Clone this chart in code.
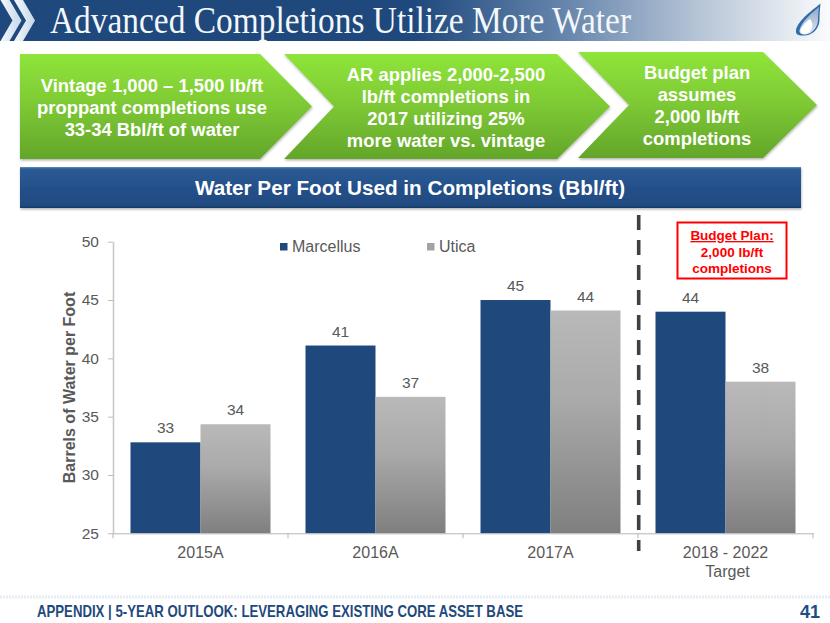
<!DOCTYPE html>
<html>
<head>
<meta charset="utf-8">
<script src="https://cdn.jsdelivr.net/npm/d3@7"></script>
<style>
  html, body { margin: 0; padding: 0; background: #fff; }
  svg { display: block; font-family: 'Liberation Sans', Arial, sans-serif; }
</style>
</head>
<body>
<div id="slide"></div>
<script>
// chart values
const categories = ['2015A', '2016A', '2017A', '2018 - 2022\nTarget']
const seriesNames = ['Marcellus', 'Utica']
const marcellus = [32.8, 41.1, 45, 44]
const utica = [34.35, 36.7, 44.1, 38]
const yTicks = [25, 30, 35, 40, 45, 50]

const titleText = 'Advanced Completions Utilize More Water'
const arrowOne = ['Vintage 1,000 – 1,500 lb/ft', 'proppant completions use', '33-34 Bbl/ft of water']
const arrowTwo = ['AR applies 2,000-2,500', 'lb/ft completions in', '2017 utilizing 25%', 'more water vs. vintage']
const arrowThree = ['Budget plan', 'assumes', '2,000 lb/ft', 'completions']
const chartHeading = 'Water Per Foot Used in Completions (Bbl/ft)'
const yTitle = 'Barrels of Water per Foot'
const budgetNote = ['Budget Plan:', '2,000 lb/ft', 'completions']
const footerText = 'APPENDIX | 5-YEAR OUTLOOK: LEVERAGING EXISTING CORE ASSET BASE'
const pageNumber = '41'

const width = 830
const height = 623
const navy = '#1f497d'
const labelGrey = '#595959'

const svg = d3
  .select('#slide')
  .append('svg')
  .attr('width', width)
  .attr('height', height)

const defs = svg.append('defs')

function linearGradient(id, stops, horizontal) {
  const g = defs
    .append('linearGradient')
    .attr('id', id)
    .attr('x1', 0)
    .attr('y1', 0)
    .attr('x2', horizontal ? 1 : 0)
    .attr('y2', horizontal ? 0 : 1)
  stops.forEach(s => {
    g.append('stop').attr('offset', s[0]).attr('stop-color', s[1])
  })
}

linearGradient('bannerFill', [[0, navy], [0.5, navy], [0.68, '#6685ab'], [0.84, '#b5c4d6'], [1, '#fafbfc']], true)
linearGradient('arrowFill', [[0, '#8fe53a'], [0.45, '#7fcb35'], [1, '#63a62a']])
linearGradient('headingFill', [[0, '#5f8fc4'], [0.05, '#2c5b95'], [0.5, '#24508a'], [0.95, '#1f4a80'], [1, '#16355c']])
linearGradient('uticaFill', [[0, '#b9b9b9'], [0.4, '#aaaaaa'], [1, '#7f7f7f']])
linearGradient('chevronFill', [[0, '#f4f8fc'], [1, '#c5d8ea']], true)
linearGradient('flameShade', [[0, '#8fa9c6'], [1, '#dfe6ee']])

const shadow = defs
  .append('filter')
  .attr('id', 'softShadow')
  .attr('x', '-5%')
  .attr('y', '-10%')
  .attr('width', '110%')
  .attr('height', '125%')
shadow
  .append('feDropShadow')
  .attr('dx', 0.5)
  .attr('dy', 1.5)
  .attr('stdDeviation', 1)
  .attr('flood-color', '#000')
  .attr('flood-opacity', 0.3)

// top banner
svg
  .append('rect')
  .attr('width', width)
  .attr('height', 41)
  .attr('fill', 'url(#bannerFill)')

// the two pale chevrons at the left of the banner
function bannerChevron(x) {
  return `M${x},0 L${x + 9},0 L${x + 21},20.5 L${x + 9},41 L${x},41 L${x + 12},20.5 Z`
}
svg
  .selectAll('path.bannerChevron')
  .data([0.5, 14])
  .enter()
  .append('path')
  .attr('class', 'bannerChevron')
  .attr('d', d => bannerChevron(d))
  .attr('fill', 'url(#chevronFill)')

svg
  .append('text')
  .attr('x', 50)
  .attr('y', 33)
  .attr('textLength', 581)
  .attr('lengthAdjust', 'spacingAndGlyphs')
  .style('font-family', "'Liberation Serif', serif")
  .style('font-size', '37px')
  .attr('fill', '#f4f7fa')
  .text(titleText)

// flame logo
const flame = svg.append('g')
flame
  .append('path')
  .attr('d', 'M820.5,3.5 C814,9 798,20 796,30 C795,35 800,36 805,35.5 C814,35 819.5,27 819.5,20 C819.5,14 820,8 820.5,3.5 Z')
  .attr('fill', '#2f6cab')
flame
  .append('path')
  .attr('d', 'M819,7 C813,12 802,21 799.5,30 C799,34 803,35 806,34.5 C813,33.5 818,26 818,20 C818,15 818.5,11 819,7 Z')
  .attr('fill', 'url(#flameShade)')
flame
  .append('path')
  .attr('d', 'M810,19 C806,22 801,27 800.5,31 C800.5,34 804,34.5 807,33.5 C811,32 813,27 812,23 C811.5,21 811,20 810,19 Z')
  .attr('fill', '#fff')

// green process arrows
function arrowPath(a) {
  const mid = (a.top + a.bottom) / 2
  return `M${a.left},${a.top} L${a.shoulder},${a.top} L${a.tip},${mid} L${a.shoulder},${a.bottom} L${a.left},${a.bottom}` +
    (a.notch ? ` L${a.notch},${mid} Z` : ' Z')
}

const arrows = [
  { lines: arrowOne, left: 20, notch: 0, shoulder: 260, tip: 312, top: 54, bottom: 159, cx: 152, first: 92 },
  { lines: arrowTwo, left: 284, notch: 334, shoulder: 557, tip: 610, top: 54, bottom: 159, cx: 446, first: 80.5 },
  { lines: arrowThree, left: 578, notch: 629, shoulder: 763, tip: 817, top: 52, bottom: 158, cx: 697, first: 78.5 }
]

const arrow = svg
  .selectAll('g.arrow')
  .data(arrows)
  .enter()
  .append('g')
  .attr('class', 'arrow')

arrow
  .append('path')
  .attr('d', d => arrowPath(d))
  .attr('fill', 'url(#arrowFill)')
  .attr('filter', 'url(#softShadow)')

arrow
  .selectAll('text')
  .data(d => d.lines.map((line, i) => ({ line, x: d.cx, y: d.first + i * 22 })))
  .enter()
  .append('text')
  .attr('x', d => d.x)
  .attr('y', d => d.y)
  .attr('text-anchor', 'middle')
  .attr('fill', '#fff')
  .style('font-size', '18.4px')
  .style('font-weight', 'bold')
  .text(d => d.line)

// chart heading bar
svg
  .append('rect')
  .attr('x', 20)
  .attr('y', 167)
  .attr('width', 781)
  .attr('height', 41)
  .attr('fill', 'url(#headingFill)')
  .attr('filter', 'url(#softShadow)')

svg
  .append('text')
  .attr('x', 410)
  .attr('y', 195)
  .attr('text-anchor', 'middle')
  .attr('fill', '#fff')
  .style('font-size', '20.7px')
  .style('font-weight', 'bold')
  .text(chartHeading)

// bar chart
const plot = { left: 113, right: 813, top: 241.7, bottom: 533.3 }

const x = d3
  .scaleBand()
  .domain(categories)
  .range([plot.left, plot.right])
  .paddingInner(0.2)
  .paddingOuter(0.1)

const xGroup = d3
  .scaleBand()
  .domain(seriesNames)
  .range([0, x.bandwidth()])

const y = d3
  .scaleLinear()
  .domain([25, 50])
  .range([plot.bottom, plot.top])

const yAxis = svg
  .append('g')
  .attr('transform', `translate(${plot.left},0)`)
  .call(
    d3
      .axisLeft(y)
      .tickValues(yTicks)
      .tickSizeInner(5)
      .tickSizeOuter(0)
      .tickPadding(9)
  )
yAxis.select('.domain').attr('stroke', '#c9c9c9').attr('stroke-width', 1.6)
yAxis.selectAll('line').attr('stroke', '#bdbdbd')
yAxis
  .selectAll('text')
  .attr('fill', labelGrey)
  .style('font-family', "'Liberation Sans', Arial, sans-serif")
  .style('font-size', '15.5px')

svg
  .append('text')
  .attr('transform', `translate(74.5,${(292 + 483) / 2}) rotate(-90)`)
  .attr('text-anchor', 'middle')
  .attr('fill', labelGrey)
  .style('font-size', '16px')
  .style('font-weight', 'bold')
  .text(yTitle)

const groups = svg
  .selectAll('g.category')
  .data(categories.map((c, i) => ({ category: c, values: [marcellus[i], utica[i]] })))
  .enter()
  .append('g')
  .attr('class', 'category')
  .attr('transform', d => `translate(${x(d.category)},0)`)

const bars = groups
  .selectAll('g.bar')
  .data(d => d.values.map((value, i) => ({ value, series: seriesNames[i] })))
  .enter()
  .append('g')
  .attr('class', 'bar')

bars
  .append('rect')
  .attr('x', d => xGroup(d.series))
  .attr('y', d => y(d.value))
  .attr('width', xGroup.bandwidth())
  .attr('height', d => y(25) - y(d.value))
  .attr('fill', d => (d.series === 'Marcellus' ? navy : 'url(#uticaFill)'))

bars
  .append('text')
  .attr('x', d => xGroup(d.series) + xGroup.bandwidth() / 2)
  .attr('y', d => y(d.value) - 9)
  .attr('text-anchor', 'middle')
  .attr('fill', labelGrey)
  .style('font-size', '15.5px')
  .text(d => d3.format('.0f')(d.value))

// x axis goes on top of the bars, ticks sit between the categories
const xAxis = svg
  .append('g')
  .attr('transform', `translate(0,${plot.bottom})`)
  .call(
    d3
      .axisBottom(x)
      .tickSize(0)
      .tickPadding(0)
      .tickFormat('')
  )
xAxis.select('.domain').attr('stroke', '#b5b5b5').attr('stroke-width', 1)

xAxis
  .selectAll('line.boundary')
  .data(d3.range(categories.length + 1))
  .enter()
  .append('line')
  .attr('class', 'boundary')
  .attr('x1', i => plot.left + i * x.step())
  .attr('x2', i => plot.left + i * x.step())
  .attr('y1', 0)
  .attr('y2', 5)
  .attr('stroke', '#b5b5b5')

const xLabels = svg
  .selectAll('text.xLabel')
  .data(categories)
  .enter()
  .append('text')
  .attr('class', 'xLabel')
  .attr('text-anchor', 'middle')
  .attr('fill', labelGrey)
  .style('font-size', '16px')

xLabels
  .selectAll('tspan')
  .data(d => d.split('\n').map((line, i) => ({ line, i, cat: d })))
  .enter()
  .append('tspan')
  .attr('x', d => x(d.cat) + x.bandwidth() / 2 + d.i * 2)
  .attr('y', d => 558 + d.i * 19)
  .text(d => d.line)

// legend
const legend = svg
  .selectAll('g.legend')
  .data(seriesNames)
  .enter()
  .append('g')
  .attr('class', 'legend')
  .attr('transform', (d, i) => `translate(${280 + i * 147},0)`)

legend
  .append('rect')
  .attr('y', 243)
  .attr('width', 7.5)
  .attr('height', 7.5)
  .attr('fill', d => (d === 'Marcellus' ? navy : '#a3a3a3'))

legend
  .append('text')
  .attr('x', 12)
  .attr('y', 252)
  .attr('fill', labelGrey)
  .style('font-size', '16px')
  .text(d => d)

// divider between actuals and the plan
svg
  .append('line')
  .attr('x1', 638.7)
  .attr('x2', 638.7)
  .attr('y1', 215)
  .attr('y2', 551)
  .attr('stroke', '#404040')
  .attr('stroke-width', 3.6)
  .attr('stroke-dasharray', '15 10')

// budget call-out
svg
  .append('rect')
  .attr('x', 677.5)
  .attr('y', 222.5)
  .attr('width', 109)
  .attr('height', 56)
  .attr('fill', '#fff')
  .attr('stroke', '#ff0000')
  .attr('stroke-width', 2)

svg
  .selectAll('text.note')
  .data(budgetNote)
  .enter()
  .append('text')
  .attr('class', 'note')
  .attr('x', 732)
  .attr('y', (d, i) => 240 + i * 16.6)
  .attr('text-anchor', 'middle')
  .attr('fill', '#ff0000')
  .style('font-size', '13.5px')
  .style('font-weight', 'bold')
  .style('text-decoration', (d, i) => (i === 0 ? 'underline' : 'none'))
  .text(d => d)

// footer
svg
  .append('line')
  .attr('x1', 0)
  .attr('x2', width)
  .attr('y1', 597)
  .attr('y2', 597)
  .attr('stroke', '#e6edf4')
  .attr('stroke-width', 3)
  .attr('stroke-dasharray', '2 1')

svg
  .append('text')
  .attr('x', 37)
  .attr('y', 617)
  .attr('textLength', 486)
  .attr('lengthAdjust', 'spacingAndGlyphs')
  .attr('fill', navy)
  .style('font-family', "'Liberation Sans Narrow', 'Liberation Sans', sans-serif")
  .style('font-size', '17px')
  .style('font-weight', 'bold')
  .text(footerText)

svg
  .append('text')
  .attr('x', 820)
  .attr('y', 618)
  .attr('text-anchor', 'end')
  .attr('fill', '#1f4e85')
  .style('font-size', '18px')
  .style('font-weight', 'bold')
  .text(pageNumber)
</script>
</body>
</html>
